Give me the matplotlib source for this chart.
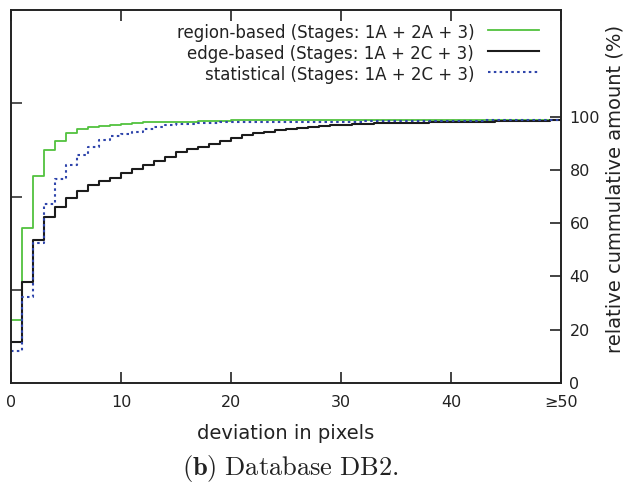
#!/usr/bin/env python3
"""Cumulative deviation histogram for database DB2 (step curves)."""

import numpy as np
import matplotlib
matplotlib.use("Agg")
import matplotlib.pyplot as plt  # noqa: E402

# deviation in pixels (0 .. 49, last bin is ">=50")
deviation = np.arange(0, 51)

region_based = [
    23.7, 58.1, 77.8, 87.4, 90.8, 93.7, 95.4, 96.2, 96.6, 96.8,
    97.1, 97.5, 98.0, 98.0, 98.0, 98.0, 98.0, 98.3, 98.3, 98.5,
    98.6, 98.7, 98.7, 98.7, 98.7, 98.7, 98.7, 98.7, 98.7, 98.7,
    98.7, 98.7, 98.7, 98.7, 98.7, 98.7, 98.7, 98.7, 98.7, 98.7,
    98.7, 98.7, 98.7, 98.7, 98.7, 98.7, 98.7, 98.7, 98.8, 98.8,
]
edge_based = [
    15.4, 38.0, 53.6, 62.2, 66.2, 69.4, 72.1, 74.3, 75.8, 77.0,
    79.0, 80.4, 81.7, 83.3, 84.8, 86.8, 87.7, 88.8, 89.8, 91.0,
    92.0, 93.2, 93.7, 94.2, 95.0, 95.3, 95.6, 96.3, 96.6, 96.7,
    97.0, 97.1, 97.3, 97.5, 97.6, 97.7, 97.7, 97.8, 97.9, 98.0,
    98.0, 98.1, 98.2, 98.2, 98.3, 98.3, 98.4, 98.5, 98.5, 98.6,
]
statistical = [
    11.9, 32.4, 52.4, 67.1, 76.5, 82.0, 85.8, 88.7, 91.3, 92.6,
    93.6, 94.4, 95.2, 96.0, 96.8, 97.1, 97.3, 97.5, 97.8, 97.9,
    98.0, 98.0, 98.0, 98.0, 98.0, 98.0, 98.1, 98.1, 98.1, 98.2,
    98.2, 98.2, 98.3, 98.3, 98.3, 98.4, 98.4, 98.4, 98.5, 98.5,
    98.5, 98.5, 98.5, 98.6, 98.6, 98.6, 98.6, 98.6, 98.6, 98.6,
]

labels = [
    "region-based (Stages: 1A + 2A + 3)",
    "edge-based (Stages: 1A + 2C + 3)",
    "statistical (Stages: 1A + 2C + 3)",
]
x_ticks = [0, 10, 20, 30, 40, 50]
x_ticklabels = ["0", "10", "20", "30", "40", "\u226550"]
y_ticks = [0, 20, 40, 60, 80, 100]


def with_end(vals):
    # repeat the last value so the final step reaches x = 50
    return list(vals) + [vals[-1]]


def main():
    plt.rcParams["font.family"] = "DejaVu Sans"
    plt.rcParams["mathtext.fontset"] = "cm"

    fig = plt.figure(figsize=(6.29, 4.86), dpi=100)
    ax = fig.add_axes([0.0175, 0.212, 0.8745, 0.767])

    ax.step(deviation, with_end(region_based), where="post",
            color="#52c23e", lw=1.3, label=labels[0])
    ax.step(deviation, with_end(edge_based), where="post",
            color="#1c1c1c", lw=1.5, label=labels[1])
    ax.step(deviation, with_end(statistical), where="post",
            color="#2f45ab", lw=1.5, ls=(0, (1.2, 1.6)), label=labels[2])

    ax.set_xlim(0, 50)
    ax.set_ylim(0, 140)

    ax.set_xticks(x_ticks)
    ax.set_xticklabels(x_ticklabels)
    ax.tick_params(axis="x", direction="in", length=8, width=1.2,
                   top=True, labelsize=11.5, pad=9, colors="#222222")

    ax.yaxis.tick_right()
    ax.yaxis.set_label_position("right")
    ax.set_yticks(y_ticks)
    ax.tick_params(axis="y", direction="in", length=8, width=1.2,
                   labelsize=11.5, pad=6, colors="#222222")

    left = ax.secondary_yaxis("left")
    left.set_yticks([35, 70, 105])
    left.set_yticklabels([])
    left.tick_params(direction="in", length=8, width=1.2, colors="#333333")
    left.spines["left"].set_visible(False)

    for sp in ax.spines.values():
        sp.set_linewidth(1.4)
        sp.set_color("#222222")

    ax.set_xlabel("deviation in pixels", fontsize=14, labelpad=10,
                  color="#222222")
    ax.set_ylabel("relative cummulative amount (%)", fontsize=14,
                  color="#222222")
    ax.yaxis.set_label_coords(1.081, 0.52)

    leg = ax.legend(loc="upper right", frameon=False, markerfirst=False,
                    fontsize=12, handlelength=3.1, handletextpad=0.8,
                    labelspacing=0.18, borderaxespad=0.45,
                    bbox_to_anchor=(0.986, 1.0))
    for t in leg.get_texts():
        t.set_ha("right")
        t.set_color("#222222")
    # right-align the texts inside the legend column
    vp = leg._legend_box._children[-1]._children[0]
    for c in vp._children:
        c.align = "right"
    vp.align = "right"

    fig.text(0.462, 0.037, r"$\mathbf{(b)}\ \mathrm{Database\ DB2.}$",
             ha="center", va="center", fontsize=19, color="#222222")

    fig.savefig("out.png", dpi=100)


if __name__ == "__main__":
    main()
